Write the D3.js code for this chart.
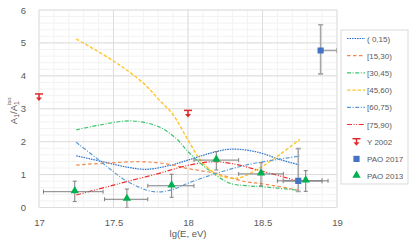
<!DOCTYPE html>
<html>
<head>
<meta charset="utf-8">
<script src="https://cdn.jsdelivr.net/npm/d3@7"></script>
<style>
  body { margin: 0; background: #fff; }
  svg { display: block; font-family: "Liberation Sans", Arial, sans-serif; }
</style>
</head>
<body>
<div id="chart"></div>
<script>
// Curves per zenith-angle bin: [lg E, A1/A1iso]
const bin0_15 = [[17.25,1.57],[17.43,1.39],[17.6,1.22],[17.72,1.16],[17.87,1.27],[18.0,1.44],[18.15,1.65],[18.28,1.77],[18.45,1.7],[18.63,1.44],[18.75,1.29]];
const bin15_30 = [[17.25,1.29],[17.45,1.35],[17.68,1.39],[17.85,1.33],[18.0,1.18],[18.17,1.05],[18.39,0.78],[18.5,0.72],[18.75,0.52]];
const bin30_45 = [[17.25,2.36],[17.4,2.5],[17.62,2.63],[17.8,2.46],[17.92,2.1],[18.01,1.65],[18.14,1.14],[18.28,0.74],[18.4,0.66],[18.5,0.63],[18.75,0.52]];
const bin45_60 = [[17.25,5.12],[17.5,4.45],[17.7,3.78],[17.81,3.25],[17.9,2.82],[18.0,2.05],[18.1,1.35],[18.2,1.0],[18.33,0.89],[18.48,1.2],[18.62,1.62],[18.75,2.07]];
const bin60_75 = [[17.25,1.98],[17.4,1.45],[17.59,0.8],[17.77,0.48],[17.9,0.55],[18.0,0.74],[18.2,1.05],[18.4,1.3],[18.6,1.46],[18.75,1.56]];
const bin75_90 = [[17.25,0.38],[17.45,0.62],[17.6,0.8],[17.8,1.03],[18.0,1.28],[18.17,1.39],[18.3,1.33],[18.45,1.16],[18.63,0.94],[18.75,0.78]];

// Y 2002 upper limits: [lg E, value]
const y2002 = [[17.0,3.45],[18.0,2.95]];
// PAO 2017: [lg E, value, yLow, yHigh, xLow, xHigh]
const pao2017 = [[18.74,0.81,0.49,1.79,18.64,18.9],[18.89,4.77,4.06,5.55,18.89,19.0]];
// PAO 2013: [lg E, value, yLow, yHigh, xLow, xHigh]
const pao2013 = [
  [17.24,0.48,0.18,0.8,17.03,17.43],
  [17.59,0.25,0.0,0.56,17.44,17.73],
  [17.89,0.66,0.31,1.01,17.73,18.04],
  [18.19,1.44,1.14,1.7,18.04,18.34],
  [18.49,1.02,0.66,1.36,18.34,18.64],
  [18.79,0.81,0.49,1.12,18.6,18.94]
];

const xTicks = [17, 17.5, 18, 18.5, 19];
const yTicks = [0, 1, 2, 3, 4, 5, 6];

const series = [
  { name: '( 0,15)', data: bin0_15, color: '#2E75D0', dash: '1.6,0.9', width: 1.2 },
  { name: '[15,30)', data: bin15_30, color: '#F0884A', dash: '3.5,2.5', width: 1.2 },
  { name: '[30,45)', data: bin30_45, color: '#3CC46A', dash: '4,1.6,1,1.6', width: 1.2 },
  { name: '[45,60)', data: bin45_60, color: '#FFC52E', dash: '3.5,1.8', width: 1.4 },
  { name: '[60,75)', data: bin60_75, color: '#5B9BD5', dash: '4,1.6,1,1.6', width: 1.2 },
  { name: '[75,90)', data: bin75_90, color: '#F22B2B', dash: '5,1.6,1,1.6,1,1.6', width: 1.2 }
];

const W = 416, H = 250;
const x = d3.scaleLinear().domain([17, 19]).range([39, 337]);
const y = d3.scaleLinear().domain([0, 6]).range([207.5, 10]);

const svg = d3.select('#chart').append('svg')
  .attr('width', W).attr('height', H);

svg.append('defs').append('clipPath').attr('id', 'plot')
  .append('rect')
  .attr('x', x(17)).attr('y', y(6))
  .attr('width', x(19) - x(17)).attr('height', y(0) - y(6));

// gridlines: minor then major
const grid = svg.append('g');
grid.selectAll('.vminor').data(d3.range(17, 19.001, 0.1))
  .enter().append('line')
  .attr('x1', d => x(d)).attr('x2', d => x(d))
  .attr('y1', y(0)).attr('y2', y(6))
  .attr('stroke', '#F2F2F2').attr('stroke-width', 1);
grid.selectAll('.hminor').data(d3.range(0, 6.001, 0.2))
  .enter().append('line')
  .attr('x1', x(17)).attr('x2', x(19))
  .attr('y1', d => y(d)).attr('y2', d => y(d))
  .attr('stroke', '#F2F2F2').attr('stroke-width', 1);
grid.selectAll('.vmajor').data(xTicks)
  .enter().append('line')
  .attr('x1', d => x(d)).attr('x2', d => x(d))
  .attr('y1', y(0)).attr('y2', y(6))
  .attr('stroke', '#DDDDDD').attr('stroke-width', 1);
grid.selectAll('.hmajor').data(yTicks)
  .enter().append('line')
  .attr('x1', x(17)).attr('x2', x(19))
  .attr('y1', d => y(d)).attr('y2', d => y(d))
  .attr('stroke', '#DDDDDD').attr('stroke-width', 1);

// axes
const xAxis = svg.append('g')
  .attr('transform', `translate(0,${y(0) + 9})`)
  .call(d3.axisBottom(x).tickValues(xTicks).tickSize(0).tickFormat(d3.format('')));
const yAxis = svg.append('g')
  .attr('transform', `translate(${x(17) - 10},0)`)
  .call(d3.axisLeft(y).tickValues(yTicks).tickSize(0).tickFormat(d3.format('d')));
[xAxis, yAxis].forEach(a => {
  a.select('.domain').remove();
  a.selectAll('text').attr('fill', '#595959').style('font-size', '9.5px');
});

svg.append('text')
  .attr('x', x(18)).attr('y', 237)
  .attr('text-anchor', 'middle')
  .attr('fill', '#595959').style('font-size', '9.5px')
  .text('lg(E, eV)');

const yl = svg.append('text')
  .attr('transform', `translate(16.5,${(y(0) + y(6)) / 2 + 2}) rotate(-90)`)
  .attr('text-anchor', 'middle')
  .attr('fill', '#595959').style('font-size', '9.5px');
yl.append('tspan').text('A');
yl.append('tspan').attr('dy', 2.5).style('font-size', '7px').text('1');
yl.append('tspan').attr('dy', -2.5).text('/A');
yl.append('tspan').attr('dy', 2.5).style('font-size', '7px').text('1');
yl.append('tspan').attr('dy', -8).attr('dx', -4).style('font-size', '6px').text('iso');

// curves
const plot = svg.append('g').attr('clip-path', 'url(#plot)');
const line = d3.line()
  .x(d => x(d[0])).y(d => y(d[1]))
  .curve(d3.curveCatmullRom.alpha(0.5));

plot.selectAll('.curve').data(series)
  .enter().append('path')
  .attr('class', 'curve')
  .attr('d', d => line(d.data))
  .attr('fill', 'none')
  .attr('stroke', d => d.color)
  .attr('stroke-width', d => d.width)
  .attr('stroke-dasharray', d => d.dash);

// error bars
function errorBars(g, data, color, width, cap) {
  data.forEach(d => {
    const cx = x(d[0]), cy = y(d[1]);
    const segs = [
      [cx, y(d[2]), cx, y(d[3])],
      [x(d[4]), cy, x(d[5]), cy],
      [cx - cap, y(d[2]), cx + cap, y(d[2])],
      [cx - cap, y(d[3]), cx + cap, y(d[3])],
      [x(d[4]), cy - cap, x(d[4]), cy + cap],
      [x(d[5]), cy - cap, x(d[5]), cy + cap]
    ];
    segs.forEach(s => {
      g.append('line')
        .attr('x1', s[0]).attr('y1', s[1]).attr('x2', s[2]).attr('y2', s[3])
        .attr('stroke', color).attr('stroke-width', width);
    });
  });
}

const marks = svg.append('g').attr('clip-path', 'url(#plot)');
errorBars(marks, pao2017, '#A6A6A6', 1.6, 2.5);
errorBars(marks, pao2013, '#7F7F7F', 1, 2);

// Y 2002 upper-limit markers
function limitMark(g, cx, cy) {
  g.append('line')
    .attr('x1', cx - 4).attr('x2', cx + 4).attr('y1', cy).attr('y2', cy)
    .attr('stroke', '#E0282A').attr('stroke-width', 1.5);
  g.append('line')
    .attr('x1', cx).attr('x2', cx).attr('y1', cy).attr('y2', cy + 4)
    .attr('stroke', '#E0282A').attr('stroke-width', 1.5);
  g.append('path')
    .attr('d', `M${cx - 3},${cy + 3.5}L${cx + 3},${cy + 3.5}L${cx},${cy + 7}Z`)
    .attr('fill', '#E0282A');
}
y2002.forEach(d => limitMark(svg, x(d[0]), y(d[1])));

const tri = d3.symbol().type(d3.symbolTriangle).size(30);
const sq = d3.symbol().type(d3.symbolSquare).size(38);

marks.selectAll('.sq').data(pao2017)
  .enter().append('path')
  .attr('transform', d => `translate(${x(d[0])},${y(d[1])})`)
  .attr('d', sq).attr('fill', '#4472C4');
marks.selectAll('.tri').data(pao2013)
  .enter().append('path')
  .attr('transform', d => `translate(${x(d[0])},${y(d[1]) - 0.8})`)
  .attr('d', tri).attr('fill', '#00B050');

// legend
const lg = svg.append('g');
lg.append('rect')
  .attr('x', 341).attr('y', 30).attr('width', 67).attr('height', 154)
  .attr('fill', '#fff').attr('stroke', '#D9D9D9').attr('stroke-width', 1);

const rowY = i => 38.5 + i * 17.2;
series.forEach((s, i) => {
  lg.append('line')
    .attr('x1', 347).attr('x2', 365).attr('y1', rowY(i)).attr('y2', rowY(i))
    .attr('stroke', s.color).attr('stroke-width', s.width)
    .attr('stroke-dasharray', s.dash);
});
const legendNames = series.map(s => s.name).concat(['Y 2002', 'PAO 2017', 'PAO 2013']);
legendNames.forEach((n, i) => {
  lg.append('text')
    .attr('x', 367).attr('y', rowY(i) + 3)
    .attr('fill', '#595959').style('font-size', '8px')
    .text(n);
});
limitMark(lg, 356.5, rowY(6) - 3);
lg.append('path').attr('transform', `translate(356.5,${rowY(7)})`).attr('d', sq).attr('fill', '#4472C4');
lg.append('path').attr('transform', `translate(356.5,${rowY(8) - 0.8})`).attr('d', tri).attr('fill', '#00B050');
</script>
</body>
</html>
